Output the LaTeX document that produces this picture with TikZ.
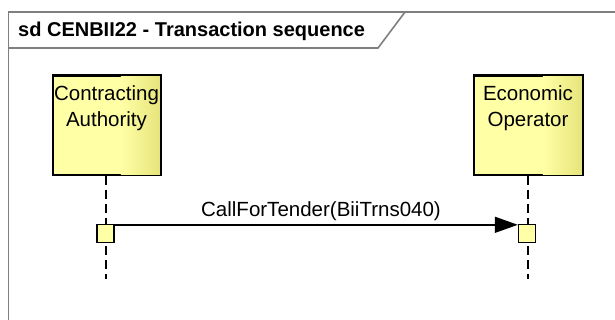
\documentclass[tikz,border=0pt]{standalone}
\usepackage{fontspec}
\setmainfont{Liberation Sans}
\usetikzlibrary{arrows.meta,calc}
\definecolor{framegray}{HTML}{7F7F7F}
\definecolor{lifefill}{HTML}{FFFFA6}
\definecolor{lifeshade}{HTML}{E6E47C}
\tikzset{
  frameline/.style={draw=framegray, line width=1.6pt},
  lifebox/.style={draw=black, line width=1.5pt, fill=lifefill, minimum width=107pt, minimum height=99pt, inner sep=0pt},
  lifelbl/.style={font=\fontsize{20.5}{26.5}\selectfont, align=center, inner sep=0pt, anchor=north},
  actbox/.style={draw=black, line width=1.4pt, fill=lifefill, minimum width=17pt, minimum height=18pt, inner sep=0pt},
  lifeline/.style={draw=black, line width=1.5pt, dash pattern=on 9pt off 5pt},
  msg/.style={draw=black, line width=1.5pt, -{Triangle[length=23pt,width=16pt]}},
  msglbl/.style={font=\fontsize{20.5}{24}\selectfont, inner sep=0pt, anchor=base},
}
\begin{document}
\begin{tikzpicture}[x=1pt,y=-1pt]
\useasboundingbox (0,0) rectangle (615,320);
\fill[white] (0,0) rectangle (615,320);

% diagram frame with its title tab
\draw[frameline] (8.5,320) -- (8.5,12) -- (615,12);
\draw[frameline] (8.5,48) -- (378,48) -- (405,12);
\node[font=\bfseries\fontsize{20}{24}\selectfont, inner sep=0pt, anchor=base west] (title) at (18,37) {sd CENBII22 - Transaction sequence};

% lifeline heads
\node[lifebox] (ca) at (106.5,125.5) {};
\node[lifebox, minimum width=108pt] (eo) at (528,125.5) {};
\foreach \b in {ca,eo}{
  \shade[left color=lifefill, right color=lifeshade]
    ($(\b.north east)+(-40,0.75)$) rectangle ($(\b.south east)+(-0.75,-0.75)$);
  \draw[black, line width=1.5pt] (\b.north west) rectangle (\b.south east);
}
\node[lifelbl] (calbl) at ([yshift=-10]ca.north) {Contracting\\Authority};
\node[lifelbl] (eolbl) at ([yshift=-10]eo.north) {Economic\\Operator};

% lifelines
\coordinate (caend) at (106,279);
\coordinate (eoend) at (528,279);
\draw[lifeline] (ca.south -| caend) -- (caend);
\draw[lifeline] (eo.south -| eoend) -- (eoend);

% activations
\node[actbox] (a1) at (105.5,233.5) {};
\node[actbox] (a2) at (527,233.5) {};

% message
\draw[msg] ([yshift=-1]a1.north east) -- ([yshift=-1]a2.north west);
\node[msglbl] (m1) at (321,217) {CallForTender(BiiTrns040)};
\end{tikzpicture}
\end{document}
